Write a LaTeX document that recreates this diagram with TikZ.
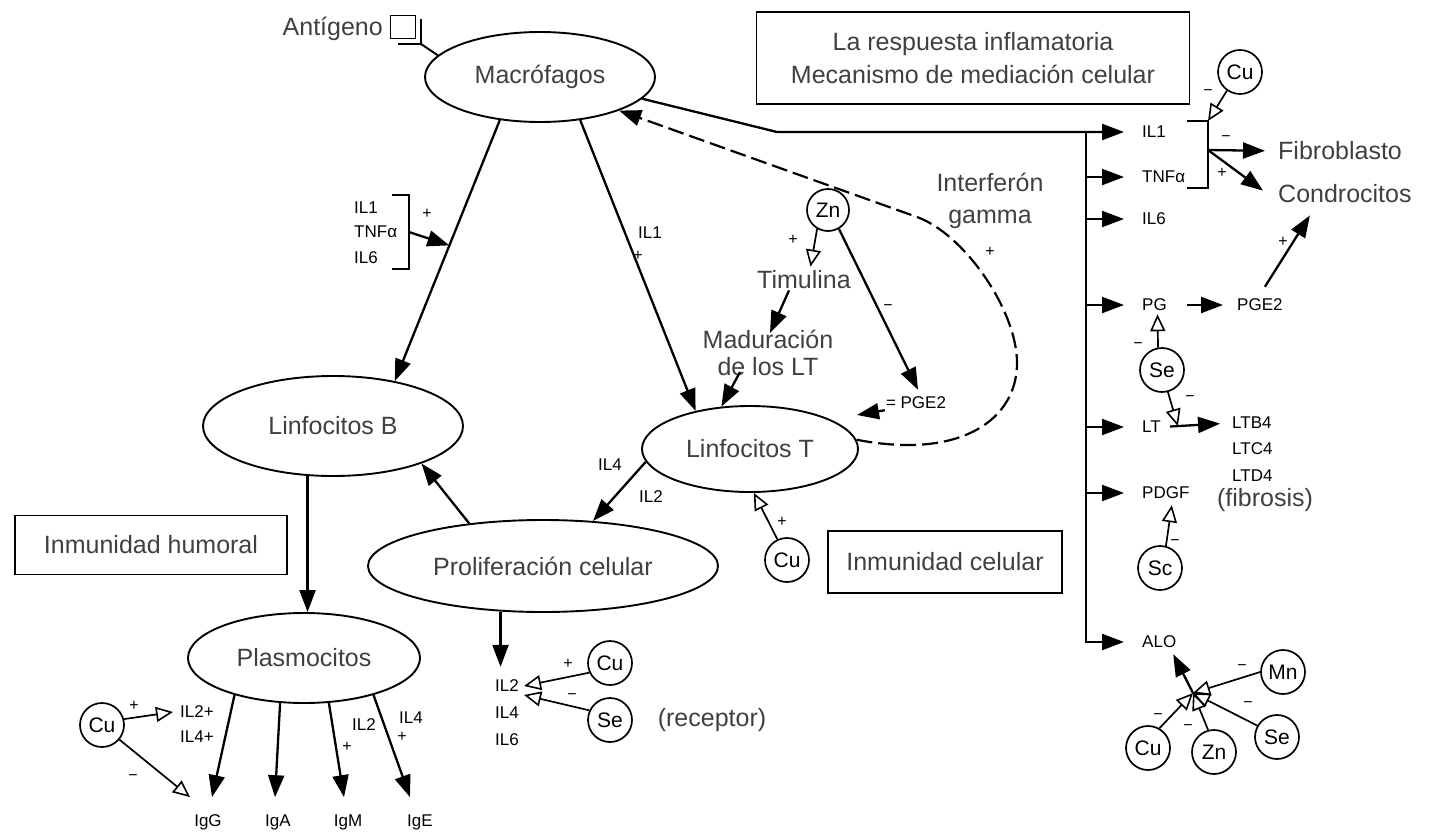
\documentclass[tikz,border=0pt]{standalone}
\usepackage{fontspec}
\setmainfont{Liberation Sans}
\usetikzlibrary{arrows.meta,shapes.geometric,calc}

\begin{document}
\begin{tikzpicture}[x=1pt,y=-1pt,
  big/.style={font=\fontsize{25}{33}\selectfont, text=black!75},
  sm/.style={font=\fontsize{17}{19}\selectfont, inner sep=1pt},
  pm/.style={font=\fontsize{16}{16}\selectfont, inner sep=0pt},
  cell/.style={draw, ellipse, line width=1.9pt, inner sep=0pt, big},
  box/.style={draw, line width=1.4pt, inner sep=0pt, big},
  elem/.style={draw, circle, line width=1.7pt, minimum size=44pt, inner sep=0pt, font=\fontsize{21}{21}\selectfont},
  ln/.style={line width=2pt},
  ar/.style={line width=2.3pt, -{Triangle[length=22pt,width=16pt]}},
  oa/.style={line width=1.7pt, -{Triangle[open,length=17pt,width=15pt,line width=1.6pt]}}
]
\useasboundingbox (0,0) rectangle (1439,832);

% ---- cell populations
\node[cell, minimum width=230pt, minimum height=90pt]  (mac) at (540,77)  {Macrófagos};
\node[cell, minimum width=260pt, minimum height=100pt] (lb)  at (333,426) {Linfocitos B};
\node[cell, minimum width=216pt, minimum height=86pt]  (lt)  at (750,449) {Linfocitos T};
\node[cell, minimum width=350pt, minimum height=92pt]  (pro) at (543,566) {Proliferación celular};
\node[cell, minimum width=232pt, minimum height=90pt]  (pla) at (304,658) {Plasmocitos};

% ---- framed captions
\node[box, minimum width=433pt, minimum height=92pt, align=center] (title) at (973,58)
  {La respuesta inflamatoria\\Mecanismo de mediación celular};
\node[box, minimum width=272pt, minimum height=59pt] (hum) at (151,545) {Inmunidad humoral};
\node[box, minimum width=234pt, minimum height=62pt] (cel) at (945,562) {Inmunidad celular};

% ---- antigen
\node[big, anchor=east, inner sep=0pt] (ant) at (383,29) {Antígeno};
\node[draw, line width=1.2pt, minimum width=25pt, minimum height=23pt, inner sep=0pt] (ag) at (403,27) {};
\draw[ln] ($(ag.north east)+(5,4)$) -- ($(ag.south east)+(5,5)$) -- ($(ag.south west)+(8,5)$);
\draw[ln] ($(ag.south east)+(5,5)$) -- (mac.168);

% ---- macrophages to B lymphocytes, with cytokine bracket
\draw[ar] (mac.227) -- coordinate[pos=0.48] (j1) (lb.36);
\node[sm, anchor=west] (l1) at (353,208) {IL1};
\node[sm, anchor=west] (l2) at (353,232) {TNFα};
\node[sm, anchor=west] (l3) at (353,258) {IL6};
\draw[line width=1.4pt] (392,195) -- (409,195) -- (409,269) -- (392,269);
\coordinate (bk1) at (409,232);
\draw[ar] (bk1) -- (j1);
\node[pm] at (427,214) {+};

% ---- macrophages to T lymphocytes
\draw[ar] (mac.313) -- (lt.145);
\node[sm] at (650,233) {IL1};
\node[pm] at (638,256) {+};

% ---- zinc, thymulin, maturation
\node[elem, minimum size=42pt] (zn) at (828,210) {Zn};
\node[big, inner sep=1pt] (tim) at (804,280) {Timulina};
\node[big, align=center, inner sep=1pt, font=\fontsize{25}{27}\selectfont] (mad) at (768,353) {Maduración\\de los LT};
\draw[oa, shorten >=3pt] (zn.240) -- ($(tim.north)+(6,0)$);
\node[pm] at (793,240) {+};
\draw[ar] ($(tim.south)+(-15,0)$) -- ($(mad.north)+(2,4)$);
\draw[ar] ($(mad.south)+(-28,-5)$) -- (lt.124);
\node[sm] (pge) at (916,403) {= PGE2};
\draw[ar] (zn.300) -- ($(pge.north)+(2,-6)$);
\node[pm] at (888,308) {−};
\coordinate (ptip) at (857,415);
\draw[ar] (pge.south west) -- (ptip);

% ---- interferon gamma feedback
\node[big, align=center, inner sep=1pt, font=\fontsize{25}{32}\selectfont] (ifn) at (990,201) {Interferón\\gamma};
\node[pm] at (990,252) {+};
\draw[line width=2.2pt, dash pattern=on 16pt off 6pt, -{Triangle[length=22pt,width=16pt]}]
  (lt.5) .. controls (960,460) and (1017,420) .. (1017,363)
         .. controls (1017,310) and (964,234) .. (917,217) -- (mac.337);

% ---- T lymphocytes, proliferation, B lymphocytes, plasma cells
\draw[ar] (lt.187) -- (pro.42);
\node[sm] at (610,465) {IL4};
\node[sm] at (651,497) {IL2};
\draw[ar] (pro.150) -- (lb.337);
\draw[ar] (lb.243) -- (lb.243 |- pla.north);
\node[elem] (cu1) at (787,560) {Cu};
\draw[oa] (cu1.115) -- (lt.275);
\node[pm] at (782,522) {+};

% ---- interleukin receptors
\node[sm] (r2) at (507,686) {IL2};
\node[sm] (r4) at (507,713) {IL4};
\node[sm] (r6) at (507,740) {IL6};
\draw[ar, shorten >=12pt] (pro.227) -- (pro.227 |- r2.north);
\node[elem] (cu2) at (610,663) {Cu};
\node[elem] (se2) at (610,720) {Se};
\draw[oa] (cu2.205) -- ($(r2.east)+(4,0)$);
\draw[oa] (se2.155) -- ($(r2.east)+(4,9)$);
\node[pm] at (568,664) {+};
\node[pm] at (572,697) {−};
\node[big] (rec) at (712,720) {(receptor)};

% ---- immunoglobulins
\node[sm] (igg) at (208,822) {IgG};
\node[sm] (iga) at (278,822) {IgA};
\node[sm] (igm) at (348,822) {IgM};
\node[sm] (ige) at (420,822) {IgE};
\draw[ar] (pla.208) -- ($(igg.north)+(4,-16)$);
\draw[ar] (pla.242) -- ($(iga.north)+(-3,-16)$);
\draw[ar] (pla.299) -- ($(igm.north)+(-4,-16)$);
\draw[ar] (pla.332) -- ($(ige.north)+(-10,-16)$);
\node[sm] (il2p) at (197,712) {IL2+};
\node[sm] (il4p) at (197,737) {IL4+};
\node[sm] at (364,725) {IL2};
\node[pm] at (347,747) {+};
\node[sm] at (411,718) {IL4};
\node[pm] at (402,737) {+};
\node[elem] (cu3) at (102,725) {Cu};
\draw[oa] (cu3.15) -- ($(il2p.west)+(-6,0)$);
\draw[oa] (cu3.-40) -- ($(igg.north)+(-18,-16)$);
\node[pm] at (134,706) {+};
\node[pm] at (133,778) {−};

% ---- inflammatory mediators
\coordinate (bend) at (777,132);
\coordinate (tr) at (1086,132);
\node[sm, anchor=west] (il1) at (1141,132) {IL1};
\node[sm, anchor=west] (tnf) at (1141,177) {TNFα};
\node[sm, anchor=west] (il6) at (1141,219) {IL6};
\node[sm, anchor=west] (pg) at (1141,305) {PG};
\node[sm, anchor=west] (ltr) at (1141,427) {LT};
\node[sm, anchor=west] (pdgf) at (1141,493) {PDGF};
\node[sm, anchor=west] (alo) at (1141,642) {ALO};
\node[sm, anchor=west] (pge2) at (1236,305) {PGE2};
\node[sm, anchor=west] (ltb) at (1231,423) {LTB4};
\node[sm, anchor=west] (ltc) at (1231,449) {LTC4};
\node[sm, anchor=west] (ltd) at (1231,476) {LTD4};
\node[big, anchor=west, inner sep=0pt] (fib) at (1278,151) {Fibroblasto};
\node[big, anchor=west, inner sep=0pt] (con) at (1278,194) {Condrocitos};
\node[big, inner sep=0pt] (fibr) at (1265,500) {(fibrosis)};

\draw[ar, shorten >=17pt] (mac.348) -- (bend) -- (il1.west);
\draw[ar, shorten >=17pt] (tr) -- (tr |- alo.west) -- (alo.west);
\foreach \n in {tnf,il6,pg,ltr,pdgf}
  \draw[ar, shorten >=17pt] (tr |- \n.west) -- (\n.west);

% cytokine bracket and its targets
\draw[line width=1.4pt] (1187,121) -- (1208,121) -- (1208,188) -- (1187,188);
\coordinate (bk2) at (1208,150);
\coordinate (bk2t) at (1208,121);
\draw[ar, shorten >=13pt] (bk2) -- (fib.west);
\draw[ar] (bk2) -- ($(con.north west)+(-15,6)$);
\node[pm] at (1226,139) {−};
\node[pm] at (1222,173) {+};
\node[elem] (cu4) at (1240,72) {Cu};
\draw[oa] (cu4.235) -- (bk2t);
\node[pm] at (1208,93) {−};

% prostaglandins and leukotrienes
\draw[ar, shorten <=19pt, shorten >=13pt] (pg.east) -- (pge2.west);
\draw[ar] ($(pge2.north)+(5,-11)$) -- ($(con.south)+(-35,12)$);
\node[pm] at (1283,242) {+};
\draw[ar, shorten <=8pt, shorten >=11pt] (ltr.east) -- coordinate[pos=0.23] (ltj) (ltb.west);
\node[elem] (se1) at (1162,370) {Se};
\draw[oa] (se1.100) -- ($(pg.south)+(3,2)$);
\node[pm] at (1138,346) {−};
\draw[oa] (se1.-75) -- (ltj);
\node[pm] at (1190,399) {−};
\node[elem] (sc) at (1160,568) {Sc};
\draw[oa] (sc.75) -- ($(pdgf.south)+(6,5)$);
\node[pm] at (1175,543) {−};

% oxygen radicals and their trace-element regulators
\coordinate (hub) at (1193,693);
\draw[ar] (hub) -- ($(alo.south)+(14,5)$);
\node[elem] (mn) at (1283,672) {Mn};
\node[elem] (se3) at (1277,737) {Se};
\node[elem] (cu5) at (1148,748) {Cu};
\node[elem] (zn2) at (1214,752) {Zn};
\draw[oa] (mn.west) -- (hub);
\draw[oa] (se3.150) -- (hub);
\draw[oa] (cu5.60) -- (hub);
\draw[oa] (zn2.105) -- (hub);
\node[pm] at (1242,668) {−};
\node[pm] at (1248,705) {−};
\node[pm] at (1158,717) {−};
\node[pm] at (1188,728) {−};
\end{tikzpicture}
\end{document}
